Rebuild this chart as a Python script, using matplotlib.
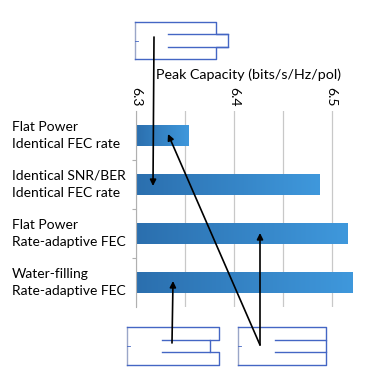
import matplotlib.pyplot as plt
import numpy as np
from matplotlib.transforms import blended_transform_factory
from matplotlib.colors import LinearSegmentedColormap

plt.rcParams['font.family'] = ['Lato', 'DejaVu Sans']

categories = ["Flat Power\nIdentical FEC rate",
              "Identical SNR/BER\nIdentical FEC rate",
              "Flat Power\nRate-adaptive FEC",
              "Water-filling\nRate-adaptive FEC"]
capacity = [6.354, 6.488, 6.516, 6.521]
x_ticks = [6.3, 6.4, 6.5]
x_label = "Peak Capacity (bits/s/Hz/pol)"

W, H = 367, 379
fig = plt.figure(figsize=(W / 100, H / 100), dpi=100)


def fx(px):
    return px / W


def fy(py):
    return 1 - py / H


ax = fig.add_axes([fx(136), fy(307), fx(361) - fx(136), fy(111) - fy(307)])
ypos = np.arange(len(categories))
bars = ax.barh(ypos, [c - 6.3 for c in capacity], left=6.3, height=0.41,
               color="none", edgecolor="none", zorder=2)

# gradient fill, darker on the left
grad = np.linspace(0, 1, 256).reshape(1, -1)
cmap = LinearSegmentedColormap.from_list("bar", ["#2b6fae", "#3f98dc"])
for b in bars:
    x0, y0 = b.get_x(), b.get_y()
    im = ax.imshow(grad, cmap=cmap, aspect="auto", zorder=2,
                   extent=[x0, x0 + b.get_width(), y0 + b.get_height(), y0])
    im.set_clip_path(b)

ax.set_xlim(6.3, 6.53)
ax.set_ylim(3.5, -0.5)
ax.xaxis.tick_top()
ax.xaxis.set_label_position("top")
ax.set_xticks(x_ticks)
ax.set_xticks([6.35, 6.45], minor=True)
ax.set_xticklabels([f"{t:.1f}" for t in x_ticks], rotation=-90, fontsize=10)
ax.tick_params(axis="x", which="both", length=0, pad=3)
ax.grid(axis="x", which="both", color="#c8c8c8", lw=0.9, zorder=0)
ax.set_xlabel(x_label, fontsize=10.3, labelpad=6)
ax.set_yticks([0.5, 1.5, 2.5])
ax.set_yticklabels([])
ax.tick_params(axis="y", length=3, color="#b0b0b0")
for s in ["right", "bottom", "top"]:
    ax.spines[s].set_visible(False)
ax.spines["left"].set_color("#b0b0b0")

tr = blended_transform_factory(fig.transFigure, ax.transData)
for i, c in enumerate(categories):
    ax.text(fx(12), i, c, transform=tr, ha="left", va="center",
            fontsize=10, linespacing=1.55)

# small spectrum diagrams (drawn in pixel coords on an overlay axes)
ov = fig.add_axes([0, 0, 1, 1], facecolor="none")
ov.set_xlim(0, W)
ov.set_ylim(H, 0)
ov.axis("off")
blue = "#4466c4"


def diagram(x0, y0, w, h, mid_right, inner_x):
    y1, y2, y3 = y0 + h / 3, y0 + 2 * h / 3, y0 + h
    xr = x0 + w
    ov.plot([x0, x0], [y0, y3], color="#9aa6c8", lw=1)
    ov.plot([x0, xr, xr, mid_right], [y0, y0, y1, y1], color=blue, lw=1)
    ov.plot([x0, xr, xr, mid_right], [y3, y3, y2, y2], color=blue, lw=1)
    ov.plot([inner_x, mid_right, mid_right, inner_x], [y1, y1, y2, y2], color=blue, lw=1)
    ov.plot([x0, x0 + 3], [(y1 + y2) / 2] * 2, color=blue, lw=0.6)


diagram(135, 22, 81, 37, 228, 168)
diagram(127, 327, 92, 38, 210, 162)
diagram(238, 327, 88, 38, 326, 275)

arrow = dict(arrowstyle="-|>", color="black", lw=1.2, mutation_scale=9,
             shrinkA=0, shrinkB=0)
ov.annotate("", xy=(153, 186), xytext=(154, 37), arrowprops=arrow)
ov.annotate("", xy=(173, 281), xytext=(172, 343), arrowprops=arrow)
ov.annotate("", xy=(168, 134), xytext=(260, 345), arrowprops=arrow)
ov.annotate("", xy=(260, 233), xytext=(260, 345), arrowprops=arrow)

fig.savefig("out.png", dpi=100)
